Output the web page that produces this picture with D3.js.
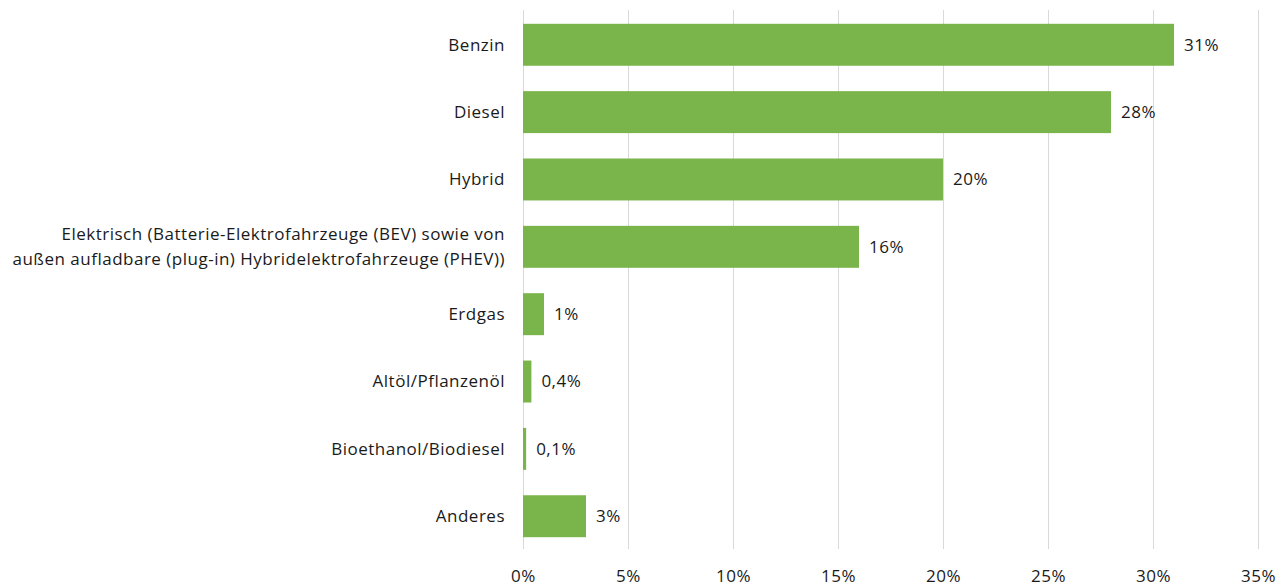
<!DOCTYPE html>
<html>
<head>
<meta charset="utf-8">
<script src="https://cdn.jsdelivr.net/npm/d3@7"></script>
<style>
  body { margin: 0; background: #fff; }
  text { font-family: "Open Sans", "Noto Sans", sans-serif; fill: #1a1a1a; letter-spacing: 0.5px; }
</style>
</head>
<body>
<div id="vis-holder"></div>
<script>
// Kraftstoffarten, Anteil in %
const categories = [
  ["Benzin"],
  ["Diesel"],
  ["Hybrid"],
  ["Elektrisch (Batterie-Elektrofahrzeuge (BEV) sowie von", "außen aufladbare (plug-in) Hybridelektrofahrzeuge (PHEV))"],
  ["Erdgas"],
  ["Altöl/Pflanzenöl"],
  ["Bioethanol/Biodiesel"],
  ["Anderes"]
];
const values = [31, 28, 20, 16, 1, 0.4, 0.15, 3];
const valueLabels = ["31%", "28%", "20%", "16%", "1%", "0,4%", "0,1%", "3%"];
const ticks = [0, 5, 10, 15, 20, 25, 30, 35];

const width = 1283;
const height = 586;
const margin = { top: 10, right: 25, bottom: 37, left: 523 };
const fontSize = 17;

const svg = d3.select("#vis-holder")
  .append("svg")
  .attr("width", width)
  .attr("height", height);

const x = d3.scaleLinear()
  .domain([0, 35])
  .range([margin.left, width - margin.right]);

const y = d3.scaleBand()
  .domain(d3.range(values.length))
  .range([margin.top + 1, height - margin.bottom + 1])
  .paddingInner(0.377)
  .paddingOuter(0.19);

// gridlines
svg.append("g")
  .selectAll("line")
  .data(ticks)
  .enter()
  .append("line")
  .attr("x1", d => Math.round(x(d)) + 0.5)
  .attr("x2", d => Math.round(x(d)) + 0.5)
  .attr("y1", margin.top)
  .attr("y2", height - margin.bottom)
  .attr("stroke", "#d9d9d9")
  .attr("stroke-width", 1);

// x axis labels
svg.append("g")
  .attr("transform", `translate(0, ${height - 4})`)
  .call(d3.axisBottom(x).tickValues(ticks).tickFormat(d => d + "%").tickSize(0))
  .call(g => g.select(".domain").remove())
  .selectAll("text")
  .attr("y", 0)
  .attr("dy", "0")
  .attr("font-size", fontSize + "px");

// bars
svg.selectAll(".bar")
  .data(values)
  .enter()
  .append("rect")
  .attr("class", "bar")
  .attr("x", x(0))
  .attr("y", (d, i) => y(i))
  .attr("width", d => x(d) - x(0))
  .attr("height", y.bandwidth())
  .attr("fill", "#7ab54b");

// value labels
svg.selectAll(".val")
  .data(values)
  .enter()
  .append("text")
  .attr("class", "val")
  .attr("x", d => x(d) + 10)
  .attr("y", (d, i) => y(i) + y.bandwidth() / 2)
  .attr("dy", "0.35em")
  .attr("font-size", fontSize + "px")
  .text((d, i) => valueLabels[i]);

// category labels
const lineH = 25;
const cat = svg.selectAll(".cat")
  .data(categories)
  .enter()
  .append("text")
  .attr("class", "cat")
  .attr("text-anchor", "end")
  .attr("font-size", fontSize + "px")
  .attr("y", (d, i) => y(i) + y.bandwidth() / 2);

cat.selectAll("tspan")
  .data(d => d.map((t, j) => ({ t, j, n: d.length })))
  .enter()
  .append("tspan")
  .attr("x", margin.left - 18)
  .attr("dy", d => d.j === 0 ? (0.35 * fontSize - (d.n - 1) * lineH / 2) : lineH)
  .text(d => d.t);
</script>
</body>
</html>
